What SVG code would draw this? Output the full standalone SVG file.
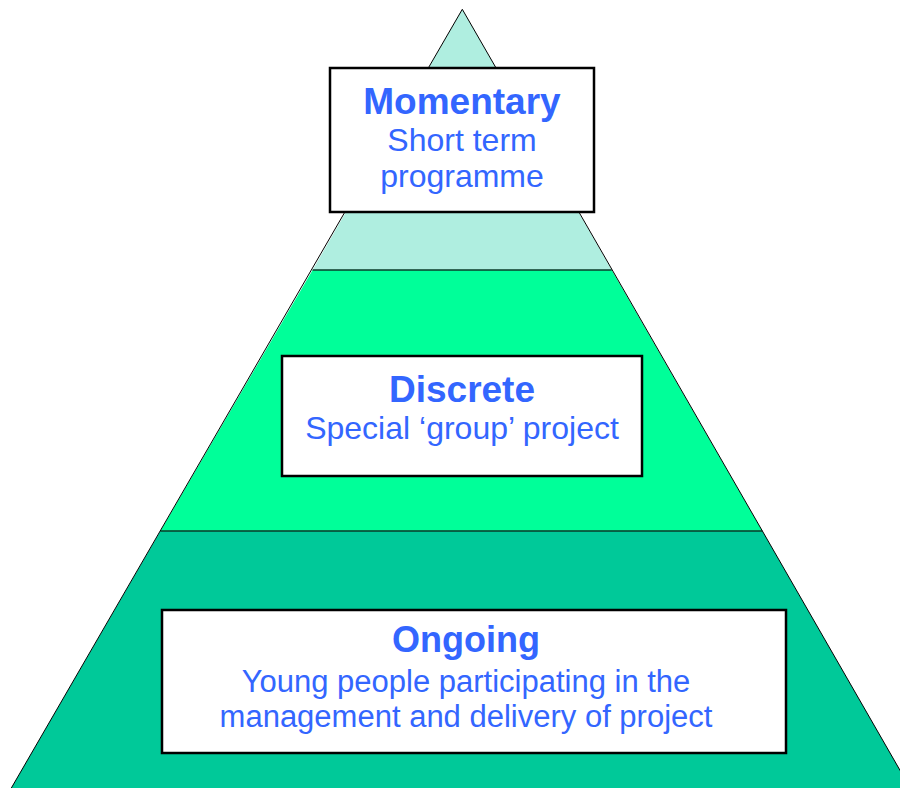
<svg xmlns="http://www.w3.org/2000/svg" width="900" height="788" viewBox="0 0 900 788">
<style>
.box{fill:#FFFFFF;stroke:#000000;stroke-width:2.5}
.t{font-family:"Liberation Sans",Arial,sans-serif;fill:#3366FF;text-anchor:middle}
.b{font-weight:bold;font-size:37px}
.r{font-size:32px}
.r2{font-size:31px}
.edge{stroke:#000000;stroke-width:1;fill:none}
.band{stroke:#0A3A2A;stroke-width:1.5}
</style>
<rect width="900" height="788" fill="#FFFFFF"/>
<g id="pyramid">
<polygon points="462.3,9.3 611.7,270 312.6,270" fill="#AFEEE0"/>
<polygon points="312.6,270 611.7,270 762.3,531 160.4,531" fill="#00FF99"/>
<polygon points="160.4,531 762.3,531 912.5,792 9,792" fill="#00C999"/>
<line class="band" x1="312.6" y1="270" x2="611.7" y2="270"/>
<line class="band" x1="160.4" y1="531" x2="762.3" y2="531"/>
<polyline class="edge" points="9,792 462.3,9.3 912.5,792"/>
</g>
<g id="connectors"></g>
<g id="momentary">
<rect class="box" x="330" y="68" width="264" height="144"/>
<text class="t b" x="462" y="114">Momentary</text>
<text class="t r" x="462" y="151">Short term</text>
<text class="t r" x="462" y="187">programme</text>
</g>
<g id="discrete">
<rect class="box" x="282" y="356" width="360" height="120"/>
<text class="t b" x="462" y="402">Discrete</text>
<text class="t r" x="462" y="439">Special ‘group’ project</text>
</g>
<g id="ongoing">
<rect class="box" x="162" y="610" width="624" height="143"/>
<text class="t b" x="466" y="652" style="font-size:36px">Ongoing</text>
<text class="t r2" x="466" y="692">Young people participating in the</text>
<text class="t r2" x="466" y="727">management and delivery of project</text>
</g>
</svg>
